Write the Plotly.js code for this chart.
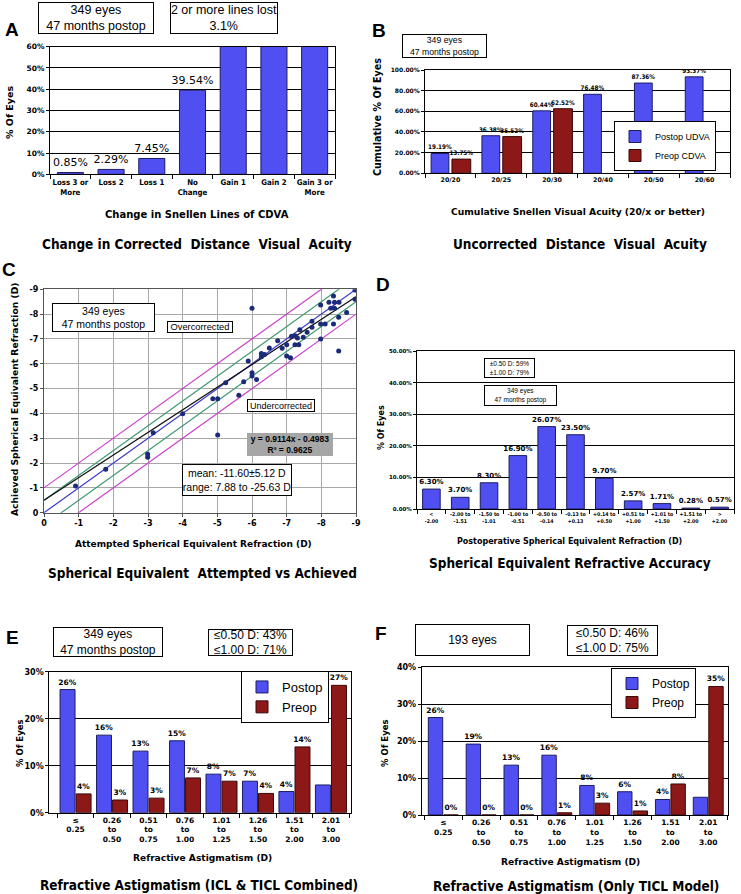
<!DOCTYPE html>
<html><head><meta charset="utf-8">
<script src="https://cdn.plot.ly/plotly-3.0.1.min.js"></script>
<style>body{margin:0;background:#fff}#chart{width:741px;height:894px}</style>
</head><body><div id="chart"></div>
<script>
// ---------- DATA ----------
// Panel A
const aCategories = ['Loss 3 or<br>More','Loss 2','Loss 1','No<br>Change','Gain 1','Gain 2','Gain 3 or<br>More'];
const aValues = [0.85, 2.29, 7.45, 39.54, 65, 65, 65];
const aLabels = ['0.85%','2.29%','7.45%','39.54%','','',''];
// Panel B
const bCategories = ['20/20','20/25','20/30','20/40','20/50','20/60'];
const bPostop = [19.19, 36.38, 60.44, 76.48, 87.36, 93.37];
const bPreop = [13.75, 35.52, 62.52, null, null, null];
// Panel C
const cAttempted = [-0.91,-1.78,-2.99,-2.99,-3.15,-4.00,-4.87,-5.01,-5.01,-5.24,-5.62,-5.76,-5.89,-6.00,-6.00,-6.00,-6.13,-6.27,-6.27,-6.36,-6.50,-6.74,-6.87,-7.00,-7.00,-7.11,-7.14,-7.24,-7.24,-7.31,-7.35,-7.38,-7.48,-7.59,-7.73,-7.73,-7.98,-7.98,-7.98,-8.11,-8.22,-8.27,-8.35,-8.35,-8.38,-8.38,-8.50,-8.50,-8.51,-8.73,-8.97,-8.97];
const cAchieved  = [-1.08,-1.75,-2.35,-2.23,-3.22,-3.99,-4.59,-4.59,-3.13,-5.24,-4.73,-5.28,-6.11,-8.24,-5.64,-5.51,-5.37,-6.41,-6.28,-6.37,-6.64,-6.93,-6.63,-6.77,-6.31,-6.24,-7.11,-7.13,-6.77,-7.04,-6.77,-7.37,-7.07,-7.27,-7.71,-7.47,-8.37,-7.60,-7.00,-7.60,-8.48,-8.24,-8.73,-7.60,-8.48,-8.24,-7.87,-6.51,-8.48,-8.07,-8.97,-8.60];
const cAxisEnds = [0, -9];
const cTickVals = [0,-1,-2,-3,-4,-5,-6,-7,-8,-9];
const cTickText = ['0','-1','-2','-3','-4','-5','-6','-7','-8','-9'];
const cBandOffsets = [-1, -0.5, 0, 0.5, 1];
const cSlope = 0.9114, cIntercept = -0.4983;
// Panel D
const dCategories = ['&lt;<br>-2.00','-2.00 to<br>-1.51','-1.50 to<br>-1.01','-1.00 to<br>-0.51','-0.50 to<br>-0.14','-0.13 to<br>+0.13','+0.14 to<br>+0.50','+0.51 to<br>+1.00','+1.01 to<br>+1.50','+1.51 to<br>+2.00','&gt;<br>+2.00'];
const dValues = [6.30, 3.70, 8.30, 16.90, 26.07, 23.50, 9.70, 2.57, 1.71, 0.28, 0.57];
// Panel E
const astigCategories = ['≤<br>0.25','0.26<br>to<br>0.50','0.51<br>to<br>0.75','0.76<br>to<br>1.00','1.01<br>to<br>1.25','1.26<br>to<br>1.50','1.51<br>to<br>2.00','2.01<br>to<br>3.00'];
const ePostop = [26.2, 16.5, 13.1, 15.3, 8.2, 6.7, 4.5, 5.9];
const ePreop  = [4.0, 2.7, 3.1, 7.4, 6.7, 4.1, 14.0, 27.1];
const ePostopLabels = ['26%','16%','13%','15%','8%','7%','4%',''];
const ePreopLabels  = ['4%','3%','3%','7%','7%','4%','14%','27%'];
// Panel F
const fPostop = [26.4, 19.2, 13.5, 16.2, 8.0, 6.3, 4.2, 4.8];
const fPreop  = [0, 0, 0, 0.6, 3.2, 1.1, 8.4, 34.8];
const fPostopLabels = ['26%','19%','13%','16%','8%','6%','4%',''];
const fPreopLabels  = ['0%','0%','0%','1%','3%','1%','8%','35%'];

// ---------- STYLE ----------
const W = 741, H = 894;
const px = x => x / W, py = y => 1 - y / H;
const VERD = 'DejaVu Sans, Verdana, sans-serif';
const COND = 'DejaVu Sans Condensed, DejaVu Sans, sans-serif';
const ARIAL = 'Liberation Sans, Arial, sans-serif';
const BLUE = '#5050f2', BLUE_EDGE = '#1c1c60';
const RED = '#8c1818', RED_EDGE = '#3a0808';
const vb = s => ({family: VERD, size: s, color: '#000', weight: 'bold'});
const cb = s => ({family: COND, size: s, color: '#000', weight: 'bold'});

const traces = [];
// A
traces.push({type:'bar', x:aCategories, y:aValues, xaxis:'x', yaxis:'y', width:0.64,
  marker:{color:BLUE, line:{color:BLUE_EDGE, width:1}}, text:aLabels, textposition:'outside',
  constraintext:'none', textfont:{family:VERD, size:11, color:'#000'}, showlegend:false});
// B
traces.push({type:'bar', name:'Postop UDVA', x:bCategories, y:bPostop, xaxis:'x2', yaxis:'y2',
  width:0.35, offset:-0.38, marker:{color:BLUE, line:{color:BLUE_EDGE, width:1}},
  text:bPostop.map(v => v.toFixed(2) + '%'), textposition:'outside', constraintext:'none',
  textfont:cb(6.3), legend:'legend'});
traces.push({type:'bar', name:'Preop CDVA', x:bCategories, y:bPreop, xaxis:'x2', yaxis:'y2',
  width:0.37, offset:0.03, marker:{color:RED, line:{color:RED_EDGE, width:1}},
  text:bPreop.map(v => v == null ? '' : v.toFixed(2) + '%'), textposition:'outside', constraintext:'none',
  textfont:cb(6.3), legend:'legend'});
// C reference lines
const bandColors = {'-1':'#cc3fcc', '-0.5':'#3f9a70', '0':'#3a3ad0', '0.5':'#3f9a70', '1':'#cc3fcc'};
cBandOffsets.forEach(off => {
  traces.push({type:'scatter', mode:'lines', x:cAxisEnds, y:cAxisEnds.map(v => v + off), xaxis:'x3', yaxis:'y3',
    line:{color:bandColors[String(off)], width:1.2}, showlegend:false, hoverinfo:'skip'});
});
traces.push({type:'scatter', mode:'lines', x:cAxisEnds, y:cAxisEnds.map(v => cSlope * v + cIntercept), xaxis:'x3', yaxis:'y3',
  line:{color:'#111', width:1.2}, showlegend:false});
traces.push({type:'scatter', mode:'markers', x:cAttempted, y:cAchieved, xaxis:'x3', yaxis:'y3',
  marker:{color:'#1c2a7a', size:5}, showlegend:false});
// D
traces.push({type:'bar', x:dCategories, y:dValues, xaxis:'x4', yaxis:'y4', width:0.61,
  marker:{color:BLUE, line:{color:BLUE_EDGE, width:1}}, text:dValues.map(v => v.toFixed(2) + '%'),
  textposition:'outside', constraintext:'none', textfont:vb(7), showlegend:false});
// E
traces.push({type:'bar', name:'Postop', x:astigCategories, y:ePostop, xaxis:'x5', yaxis:'y5', width:0.41, offset:-0.425,
  marker:{color:BLUE, line:{color:BLUE_EDGE, width:1}}, text:ePostopLabels, textposition:'outside',
  constraintext:'none', textfont:vb(7.5), legend:'legend2'});
traces.push({type:'bar', name:'Preop', x:astigCategories, y:ePreop, xaxis:'x5', yaxis:'y5', width:0.41, offset:0.015,
  marker:{color:RED, line:{color:RED_EDGE, width:1}}, text:ePreopLabels, textposition:'outside',
  constraintext:'none', textfont:vb(7.5), legend:'legend2'});
// F
traces.push({type:'bar', name:'Postop', x:astigCategories, y:fPostop, xaxis:'x6', yaxis:'y6', width:0.38, offset:-0.395,
  marker:{color:BLUE, line:{color:BLUE_EDGE, width:1}}, text:fPostopLabels, textposition:'outside',
  constraintext:'none', textfont:vb(7.5), legend:'legend3'});
traces.push({type:'bar', name:'Preop', x:astigCategories, y:fPreop, xaxis:'x6', yaxis:'y6', width:0.38, offset:0.015,
  marker:{color:RED, line:{color:RED_EDGE, width:1}}, text:fPreopLabels, textposition:'outside',
  constraintext:'none', textfont:vb(7.5), legend:'legend3'});

// ---------- AXES ----------
function xCat(x0, x1, anchor, range, font) {
  return {domain:[px(x0), px(x1)], anchor, type:'category', range, showline:true, linecolor:'#000', linewidth:1,
    mirror:true, ticks:'outside', tickson:'boundaries', ticklen:4, tickcolor:'#000', showgrid:false,
    zeroline:false, tickfont:font, tickangle:0, fixedrange:true};
}
function yLin(y0, y1, anchor, range, dtick, fs, fmt, grid) {
  return {domain:[py(y1), py(y0)], anchor, range, dtick, tick0:0, showline:true, linecolor:'#000', linewidth:1,
    mirror:true, ticks:'outside', ticklen:3, tickcolor:'#000', showgrid:true, gridcolor:grid || '#000', gridwidth:1,
    zeroline:false, tickfont:vb(fs), ticksuffix:'%', tickformat:fmt || '', fixedrange:true};
}

const layout = {
  width: W, height: H, margin:{l:0, r:0, t:0, b:0}, paper_bgcolor:'#fff', plot_bgcolor:'#fff',
  barmode:'group', hovermode:false, font:{family:VERD, color:'#000'},
  xaxis: xCat(50, 335, 'y', [-0.5, 6.5], cb(7.8)),
  yaxis: yLin(46.7, 174.3, 'x', [0, 60], 10, 7.5),
  xaxis2: xCat(425, 730, 'y2', [-0.5, 5.5], vb(6.3)),
  yaxis2: yLin(70, 173.3, 'x2', [0, 100], 20, 6, '.2f'),
  xaxis3: {domain:[px(44), px(356)], anchor:'y3', range:[0, -9], tickvals:cTickVals, ticktext:cTickText,
    showline:true, linecolor:'#555', mirror:true, ticks:'outside', ticklen:3, tickcolor:'#555',
    showgrid:true, gridcolor:'#a8a8a8', zeroline:false, tickfont:vb(8)},
  yaxis3: {domain:[py(512.7), py(289.3)], anchor:'x3', range:[0, -9], tickvals:cTickVals, ticktext:cTickText,
    showline:true, linecolor:'#555', mirror:true, ticks:'outside', ticklen:3, tickcolor:'#555',
    showgrid:true, gridcolor:'#a8a8a8', zeroline:false, tickfont:vb(8)},
  xaxis4: xCat(417, 734, 'y4', [-0.5, 10.5], cb(5.2)),
  yaxis4: yLin(351, 509, 'x4', [0, 50], 10, 5.5, '.2f'),
  xaxis5: xCat(49.3, 351, 'y5', [-0.72, 7.55], vb(7.5)),
  yaxis5: yLin(671.7, 812.7, 'x5', [0, 30], 10, 8),
  xaxis6: xCat(421.7, 728.3, 'y6', [-0.57, 7.53], vb(7.5)),
  yaxis6: yLin(667.3, 815, 'x6', [0, 40], 10, 8),
  legend: {x:px(614), y:py(121), xanchor:'left', yanchor:'top', bordercolor:'#000', borderwidth:1, bgcolor:'#fff',
    font:{family:ARIAL, size:9, color:'#000'}, itemwidth:30, tracegroupgap:0},
  legend2: {x:px(241), y:py(671), xanchor:'left', yanchor:'top', bordercolor:'#000', borderwidth:1, bgcolor:'#fff',
    font:{family:ARIAL, size:13, color:'#000'}, itemwidth:30, tracegroupgap:0},
  legend3: {x:px(611), y:py(668), xanchor:'left', yanchor:'top', bordercolor:'#000', borderwidth:1, bgcolor:'#fff',
    font:{family:ARIAL, size:12, color:'#000'}, itemwidth:30, tracegroupgap:0},
  annotations: []
};

// ---------- ANNOTATIONS ----------
function box(x0, y0, x1, y1, text, size, extra) {
  const a = {xref:'paper', yref:'paper', x:px((x0 + x1) / 2), y:py((y0 + y1) / 2), xanchor:'center', yanchor:'middle',
    width:x1 - x0 - 2, height:y1 - y0 - 2, text, showarrow:false, bordercolor:'#000', borderwidth:1, borderpad:0,
    bgcolor:'#fff', font:{family:ARIAL, size, color:'#000'}};
  return Object.assign(a, extra || {});
}
function label(x, y, text, font, angle) {
  return {xref:'paper', yref:'paper', x:px(x), y:py(y), xanchor:'center', yanchor:'middle', text, showarrow:false,
    font, textangle:angle || 0};
}
const letterFont = {family:ARIAL, size:19, color:'#000', weight:'bold'};
const bigFont = {family:COND, size:13.5, color:'#000', weight:'bold'};
const A = layout.annotations;
// letters
[['A',12,29],['B',379,31],['C',9,269],['D',383,284],['E',12,637],['F',381,633]].forEach(l => A.push(label(l[1], l[2], l[0], letterFont)));
// boxes
A.push(box(38, 2, 154, 34, '349 eyes<br>47 months postop', 12.5));
A.push(box(170, 2, 278, 34, '2 or more lines lost<br>3.1%', 12.5));
A.push(box(402, 34, 487, 58, '349 eyes<br>47 months postop', 8.7));
A.push(box(52, 303, 155, 332, '349 eyes<br>47 months postop', 10.5));
A.push(box(167, 321, 233, 333, 'Overcorrected', 9.3));
A.push(box(247, 399, 315, 412, 'Undercorrected', 9));
A.push(box(247, 433, 333, 456, 'y = 0.9114x - 0.4983<br>R² = 0.9625', 8.5,
  {bgcolor:'#a6a6a6', bordercolor:'#a6a6a6', font:{family:ARIAL, size:8.5, color:'#000', weight:'bold'}}));
A.push(box(182, 464, 292, 496, 'mean: -11.60±5.12 D<br>range: 7.88 to -25.63 D', 10.5));
A.push(box(484, 358, 535, 378, '±0.50 D: 59%<br>±1.00 D: 79%', 6.5));
A.push(box(484, 385, 557, 406, '349 eyes<br>47 months postop', 6.5));
A.push(box(53, 627, 163, 657, '349 eyes<br>47 months postop', 12));
A.push(box(208, 629, 293, 656, '≤0.50 D: 43%<br>≤1.00 D: 71%', 12));
A.push(box(415, 624, 530, 656, '193 eyes', 12));
A.push(box(567, 625, 658, 656, '≤0.50 D: 46%<br>≤1.00 D: 75%', 12));
// axis titles
A.push(label(9, 113, '% Of Eyes', vb(9.5), -90));
A.push(label(197, 215, 'Change in Snellen Lines of CDVA', vb(10)));
A.push(label(378, 117, 'Cumulative % Of Eyes', vb(9.6), -90));
A.push(label(578, 211, 'Cumulative Snellen Visual Acuity (20/x or better)', vb(9.2)));
A.push(label(14, 400, 'Achieved Spherical Equivalent Refraction (D)', vb(9.2), -90));
A.push(label(194, 544, 'Attempted Spherical Equivalent Refraction (D)', vb(9)));
A.push(label(381, 428, '% Of Eyes', vb(8), -90));
A.push(label(569, 541, 'Postoperative Spherical Equivalent Refraction (D)', vb(8)));
A.push(label(20, 743, '% Of Eyes', vb(8.5), -90));
A.push(label(202, 858, 'Refractive Astigmatism (D)', vb(9.1)));
A.push(label(385, 743, '% Of Eyes', vb(8.5), -90));
A.push(label(570, 862, 'Refractive Astigmatism (D)', vb(9.1)));
// panel titles
A.push(label(197, 244, 'Change in Corrected&nbsp; Distance&nbsp; Visual&nbsp; Acuity', bigFont));
A.push(label(580, 244, 'Uncorrected&nbsp; Distance&nbsp; Visual&nbsp; Acuity', bigFont));
A.push(label(202, 573, 'Spherical Equivalent&nbsp; Attempted vs Achieved', bigFont));
A.push(label(570, 563, 'Spherical Equivalent Refractive Accuracy', bigFont));
A.push(label(199, 885, 'Refractive Astigmatism (ICL &amp; TICL Combined)', bigFont));
A.push(label(576, 886, 'Refractive Astigmatism (Only TICL Model)', bigFont));

Plotly.newPlot('chart', traces, layout, {staticPlot:true, displayModeBar:false});
</script>
</body></html>
